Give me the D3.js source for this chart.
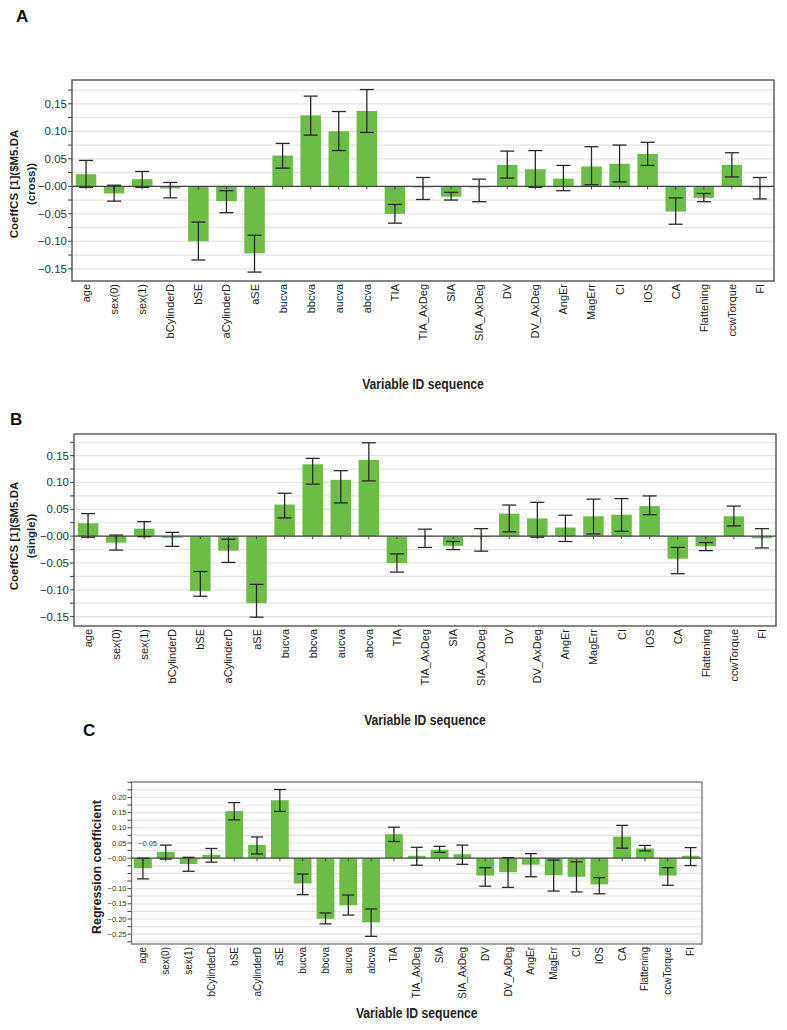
<!DOCTYPE html>
<html>
<head>
<meta charset="utf-8">
<script src="https://cdn.jsdelivr.net/npm/d3@7"></script>
<style>
  html, body { margin: 0; padding: 0; background: #fff; }
  svg { display: block; font-family: "Liberation Sans", Arial, sans-serif; }
</style>
</head>
<body>
<svg id="chart" width="787" height="1030"></svg>
<script>
// ---------- DATA ----------
const categories = ["age","sex(0)","sex(1)","bCylinderD","bSE","aCylinderD","aSE","bucva","bbcva","aucva","abcva","TIA","TIA_AxDeg","SIA","SIA_AxDeg","DV","DV_AxDeg","AngEr","MagErr","CI","IOS","CA","Flattening","ccwTorque","FI"];

const crossValues = [0.022,-0.013,0.013,-0.004,-0.100,-0.027,-0.122,0.056,0.129,0.100,0.137,-0.050,-0.002,-0.019,-0.002,0.039,0.031,0.014,0.036,0.041,0.059,-0.046,-0.021,0.039,-0.002];
const crossHigh   = [0.047,0.002,0.027,0.007,-0.065,-0.008,-0.089,0.078,0.164,0.136,0.176,-0.033,0.016,-0.011,0.013,0.064,0.065,0.038,0.072,0.075,0.080,-0.021,-0.013,0.061,0.016];
const crossLow    = [-0.002,-0.027,-0.002,-0.021,-0.134,-0.048,-0.156,0.033,0.093,0.065,0.098,-0.067,-0.024,-0.025,-0.028,0.015,-0.002,-0.008,0.003,0.008,0.038,-0.069,-0.028,0.017,-0.023];

const singleValues = [0.024,-0.012,0.014,-0.003,-0.102,-0.027,-0.125,0.059,0.134,0.105,0.142,-0.050,-0.001,-0.018,-0.002,0.042,0.033,0.016,0.037,0.040,0.056,-0.042,-0.019,0.037,-0.004];
const singleHigh   = [0.042,0.002,0.027,0.007,-0.066,-0.006,-0.090,0.080,0.145,0.122,0.174,-0.033,0.013,-0.010,0.014,0.058,0.063,0.039,0.069,0.070,0.075,-0.021,-0.012,0.056,0.014];
const singleLow    = [-0.002,-0.026,-0.001,-0.019,-0.112,-0.049,-0.151,0.034,0.097,0.062,0.103,-0.067,-0.021,-0.025,-0.028,0.008,-0.002,-0.010,0.004,0.009,0.040,-0.070,-0.027,0.019,-0.022];

const regValues = [-0.033,0.021,-0.019,0.011,0.155,0.044,0.191,-0.083,-0.199,-0.155,-0.211,0.079,0.008,0.028,0.013,-0.057,-0.046,-0.021,-0.056,-0.061,-0.086,0.071,0.032,-0.057,0.008];
const regHigh   = [0.000,0.043,0.003,0.032,0.183,0.070,0.226,-0.052,-0.180,-0.121,-0.167,0.102,0.036,0.039,0.043,-0.031,0.002,0.015,-0.006,-0.012,-0.064,0.108,0.042,-0.031,0.035];
const regLow    = [-0.068,-0.003,-0.043,-0.013,0.126,0.014,0.154,-0.120,-0.216,-0.187,-0.257,0.055,-0.023,0.019,-0.020,-0.092,-0.096,-0.061,-0.108,-0.111,-0.117,0.033,0.024,-0.089,-0.024];

const abTickLabels = [0.15,0.10,0.05,0,-0.05,-0.10,-0.15];
const cTickLabels  = [0.20,0.15,0.10,0.05,0,-0.10,-0.15,-0.20,-0.25];

// ---------- DRAW ----------
const svg = d3.select("#chart");
const GREEN = "#6bbd46";

function fmt(v) {
  if (Math.abs(v) < 1e-9) return "\u22120.00";
  return d3.format(".2f")(v);
}

function drawPanel(o) {
  const g = svg.append("g");
  const x = d3.scaleBand().domain(categories).range([o.left, o.right]).paddingInner(o.pad).paddingOuter(o.pad / 2);
  const y = d3.scaleLinear().domain(o.domain).range([o.top, o.bottom]);

  // gridlines every 0.025
  const minor = d3.range(-0.30, 0.301, 0.025).map(v => +v.toFixed(3)).filter(v => v <= o.domain[0] && v >= o.domain[1]);
  g.selectAll(".grid").data(minor).join("line")
    .attr("x1", o.left).attr("x2", o.right)
    .attr("y1", d => y(d)).attr("y2", d => y(d))
    .attr("stroke", "#e4e4e4").attr("stroke-width", 1.2);

  // bars
  const data = categories.map((c, i) => ({ c, v: o.values[i], lo: o.low[i], hi: o.high[i] }));
  g.selectAll(".bar").data(data).join("rect")
    .attr("x", d => x(d.c))
    .attr("width", x.bandwidth())
    .attr("y", d => Math.min(y(0), y(d.v)))
    .attr("height", d => Math.abs(y(d.v) - y(0)))
    .attr("fill", GREEN);

  // zero line + small ticks
  g.append("line").attr("x1", o.left).attr("x2", o.right).attr("y1", y(0)).attr("y2", y(0))
    .attr("stroke", "#444").attr("stroke-width", 1.2);
  g.selectAll(".zt").data(categories).join("line")
    .attr("x1", d => x(d) + x.bandwidth() / 2).attr("x2", d => x(d) + x.bandwidth() / 2)
    .attr("y1", y(0)).attr("y2", y(0) + 3)
    .attr("stroke", "#444");

  // error bars
  const cap = o.cap;
  const eb = g.selectAll(".eb").data(data).join("g").attr("stroke", "#2a2a2a").attr("stroke-width", 1.3);
  eb.append("line")
    .attr("x1", d => x(d.c) + x.bandwidth() / 2).attr("x2", d => x(d.c) + x.bandwidth() / 2)
    .attr("y1", d => y(d.hi)).attr("y2", d => y(d.lo));
  eb.append("line")
    .attr("x1", d => x(d.c) + x.bandwidth() / 2 - cap / 2).attr("x2", d => x(d.c) + x.bandwidth() / 2 + cap / 2)
    .attr("y1", d => y(d.hi)).attr("y2", d => y(d.hi));
  eb.append("line")
    .attr("x1", d => x(d.c) + x.bandwidth() / 2 - cap / 2).attr("x2", d => x(d.c) + x.bandwidth() / 2 + cap / 2)
    .attr("y1", d => y(d.lo)).attr("y2", d => y(d.lo));

  // frame
  g.append("rect").attr("x", o.left).attr("y", o.top)
    .attr("width", o.right - o.left).attr("height", o.bottom - o.top)
    .attr("fill", "none").attr("stroke", o.frame).attr("stroke-width", 1.3);

  // y ticks (minor marks every 0.025)
  g.selectAll(".yt").data(minor).join("line")
    .attr("x1", o.left - 4).attr("x2", o.left)
    .attr("y1", d => y(d)).attr("y2", d => y(d))
    .attr("stroke", "#444");
  g.selectAll(".yl").data(o.tickLabels).join("text")
    .attr("x", o.left - 5).attr("y", d => y(d))
    .attr("text-anchor", "end").attr("dominant-baseline", "central")
    .attr("font-size", o.tickFont).attr("fill", "#333")
    .text(d => fmt(d));

  // x labels
  g.selectAll(".xl").data(categories).join("text")
    .attr("transform", d => `translate(${x(d) + x.bandwidth() / 2},${o.bottom + 3}) rotate(-90)`)
    .attr("text-anchor", "end").attr("dominant-baseline", "central")
    .attr("font-size", o.xFont).attr("fill", "#222")
    .text(d => d);

  // x title (condensed bold)
  g.append("text")
    .attr("transform", `translate(${(o.left + o.right) / 2},${o.xTitleY}) scale(0.84,1)`)
    .attr("text-anchor", "middle").attr("dominant-baseline", "central")
    .attr("font-weight", "bold").attr("font-size", o.xTitleFont).attr("fill", "#222")
    .text("Variable ID sequence");

  // y title
  o.yTitle.forEach((t, i) => {
    g.append("text")
      .attr("transform", `translate(${o.yTitleX[i]},${o.yTitleY}) rotate(-90)`)
      .attr("text-anchor", "middle").attr("dominant-baseline", "central")
      .attr("font-weight", "bold").attr("font-size", o.yTitleFont).attr("fill", "#222")
      .text(t);
  });

  // panel letter
  g.append("text").attr("x", o.letterX).attr("y", o.letterY)
    .attr("dominant-baseline", "central").attr("font-weight", "bold")
    .attr("font-size", 17).attr("fill", "#111").text(o.letter);

  return { g, x, y };
}

drawPanel({
  letter: "A", letterX: 16, letterY: 16,
  left: 72, right: 774, top: 80, bottom: 281,
  domain: [0.1933, -0.1722], pad: 0.27, cap: 14,
  values: crossValues, high: crossHigh, low: crossLow,
  tickLabels: abTickLabels, tickFont: 11.5, xFont: 11, frame: "#444",
  xTitleY: 384, xTitleFont: 14.5,
  yTitle: ["CoeffCS [1]($M5.DA", "(cross))"], yTitleX: [14, 31], yTitleY: 184, yTitleFont: 11.5
});

drawPanel({
  letter: "B", letterX: 10, letterY: 419,
  left: 74, right: 776, top: 434, bottom: 626,
  domain: [0.1904, -0.1675], pad: 0.27, cap: 14,
  values: singleValues, high: singleHigh, low: singleLow,
  tickLabels: abTickLabels, tickFont: 11.5, xFont: 11, frame: "#444",
  xTitleY: 720, xTitleFont: 14.5,
  yTitle: ["CoeffCS [1]($M5.DA", "(single))"], yTitleX: [14, 31], yTitleY: 536, yTitleFont: 11.5
});

const pc = drawPanel({
  letter: "C", letterX: 83, letterY: 730,
  left: 131.5, right: 702, top: 782, bottom: 944,
  domain: [0.2507, -0.2822], pad: 0.22, cap: 12,
  values: regValues, high: regHigh, low: regLow,
  tickLabels: cTickLabels, tickFont: 7.5, xFont: 10, frame: "#777",
  xTitleY: 1013, xTitleFont: 14.5,
  yTitle: ["Regression coefficient"], yTitleX: [97], yTitleY: 867, yTitleFont: 12.5
});

// misplaced tick label present in the original panel C
pc.g.append("text")
  .attr("x", 138).attr("y", pc.y(0.05))
  .attr("dominant-baseline", "central")
  .attr("font-size", 7.5).attr("fill", "#444")
  .text("\u22120.05");
</script>
</body>
</html>
